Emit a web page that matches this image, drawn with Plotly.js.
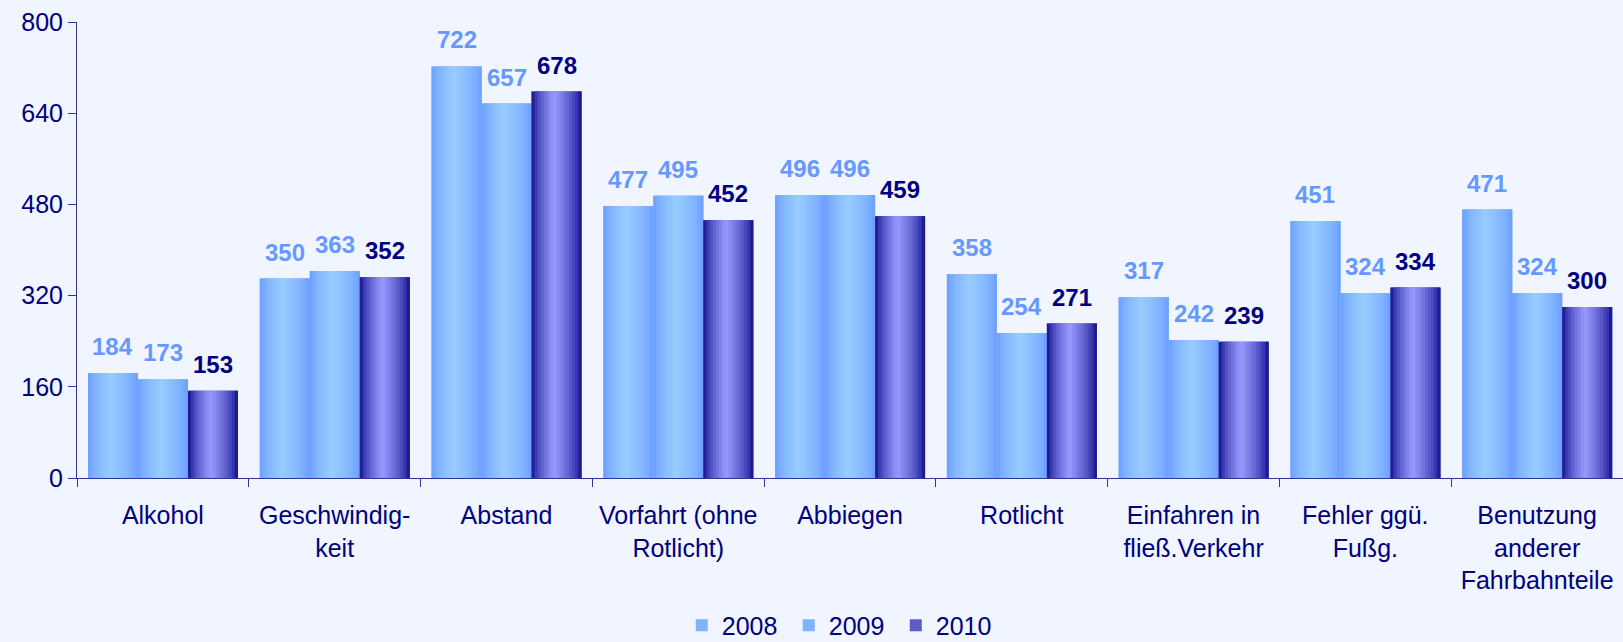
<!DOCTYPE html>
<html>
<head>
<meta charset="utf-8">
<script src="https://cdn.plot.ly/plotly-3.0.1.min.js"></script>
<style>html,body{margin:0;padding:0;background:#f0f5ff;overflow:hidden;}</style>
</head>
<body>
<div id="chart" style="width:1623px;height:642px;"></div>
<script>
const categories = ['Alkohol', 'Geschwindig-<br>keit', 'Abstand', 'Vorfahrt (ohne<br>Rotlicht)', 'Abbiegen', 'Rotlicht', 'Einfahren in<br>fließ.Verkehr', 'Fehler ggü.<br>Fußg.', 'Benutzung<br>anderer<br>Fahrbahnteile'];
const years = ['2008', '2009', '2010'];
const v2008 = [184, 350, 722, 477, 496, 358, 317, 451, 471];
const v2009 = [173, 363, 657, 495, 496, 254, 242, 324, 324];
const v2010 = [153, 352, 678, 452, 459, 271, 239, 334, 300];
const yTicks = [0, 160, 320, 480, 640, 800];

const series = [v2008, v2009, v2010];
const edgeCol = [[102,153,255],[102,153,255],[0,0,128]];
const centerCol = [[153,204,255],[153,204,255],[153,153,255]];
const swatchCol = ['#80b3ff', '#80b3ff', '#5c5cc8'];
const labelCol = ['#6699ff', '#6699ff', '#000080'];

const groupLeft = -0.436;
const bw = 0.291;
const N = 16;
const peak = 0.45;
const navy = '#000080';
const font = 'Liberation Sans, Arial, sans-serif';

function mix(a, b, f) {
  return 'rgb(' + a.map((x, i) => Math.round(x + (b[i] - x) * f)).join(',') + ')';
}

const traces = [];
series.forEach((vals, s) => {
  const off = groupLeft + s * bw;
  traces.push({
    type: 'bar', x: categories, y: vals, name: years[s],
    width: bw, offset: off,
    marker: {color: swatchCol[s], line: {width: 0}},
    hoverinfo: 'skip', showlegend: true
  });
  for (let j = 0; j < N; j++) {
    const t = (j + 0.5) / N;
    let f = t < peak ? t / peak : (1 - t) / (1 - peak);
    f = Math.pow(Math.max(0, f), 0.6);
    const w = Math.min(2 / N, 1 - j / N) * bw;
    traces.push({
      type: 'bar', x: categories, y: vals,
      width: w, offset: off + (j / N) * bw,
      marker: {color: mix(edgeCol[s], centerCol[s], f), line: {width: 0}},
      hoverinfo: 'skip', showlegend: false
    });
  }
});

const annotations = [];
series.forEach((vals, s) => {
  vals.forEach((v, i) => {
    annotations.push({
      x: i + groupLeft + (s + 0.5) * bw, y: v, xref: 'x', yref: 'y',
      text: '<b>' + v + '</b>', showarrow: false,
      yanchor: 'bottom', yshift: 11,
      font: {family: font, size: 24, color: labelCol[s]}
    });
  });
});

const layout = {
  width: 1623, height: 642,
  paper_bgcolor: '#f0f5ff', plot_bgcolor: '#f0f5ff',
  margin: {l: 77, r: 0, t: 22, b: 164, autoexpand: false},
  barmode: 'overlay',
  showlegend: true,
  legend: {
    orientation: 'h', x: 0.495, xanchor: 'center', y: -0.374, yanchor: 'bottom',
    font: {family: font, size: 25, color: navy},
    entrywidth: 62, entrywidthmode: 'pixels', itemwidth: 30,
    bgcolor: 'rgba(0,0,0,0)'
  },
  xaxis: {
    type: 'category', range: [-0.5, 8.5], automargin: false,
    showline: true, linecolor: '#333399', linewidth: 1,
    ticks: 'outside', tickson: 'boundaries', ticklen: 8, tickcolor: '#333399',
    ticklabelstandoff: 15,
    tickfont: {family: font, size: 25, color: navy},
    showgrid: false, zeroline: false, fixedrange: true
  },
  yaxis: {
    range: [0, 800], tickmode: 'array', tickvals: yTicks, ticktext: yTicks.map(String),
    automargin: false,
    showline: true, linecolor: '#333399', linewidth: 1,
    ticks: 'outside', ticklen: 8, tickcolor: '#333399',
    tickfont: {family: font, size: 25, color: navy},
    showgrid: false, zeroline: false, fixedrange: true
  },
  annotations: annotations
};

Plotly.newPlot('chart', traces, layout, {displayModeBar: false, staticPlot: true});
</script>
</body>
</html>
